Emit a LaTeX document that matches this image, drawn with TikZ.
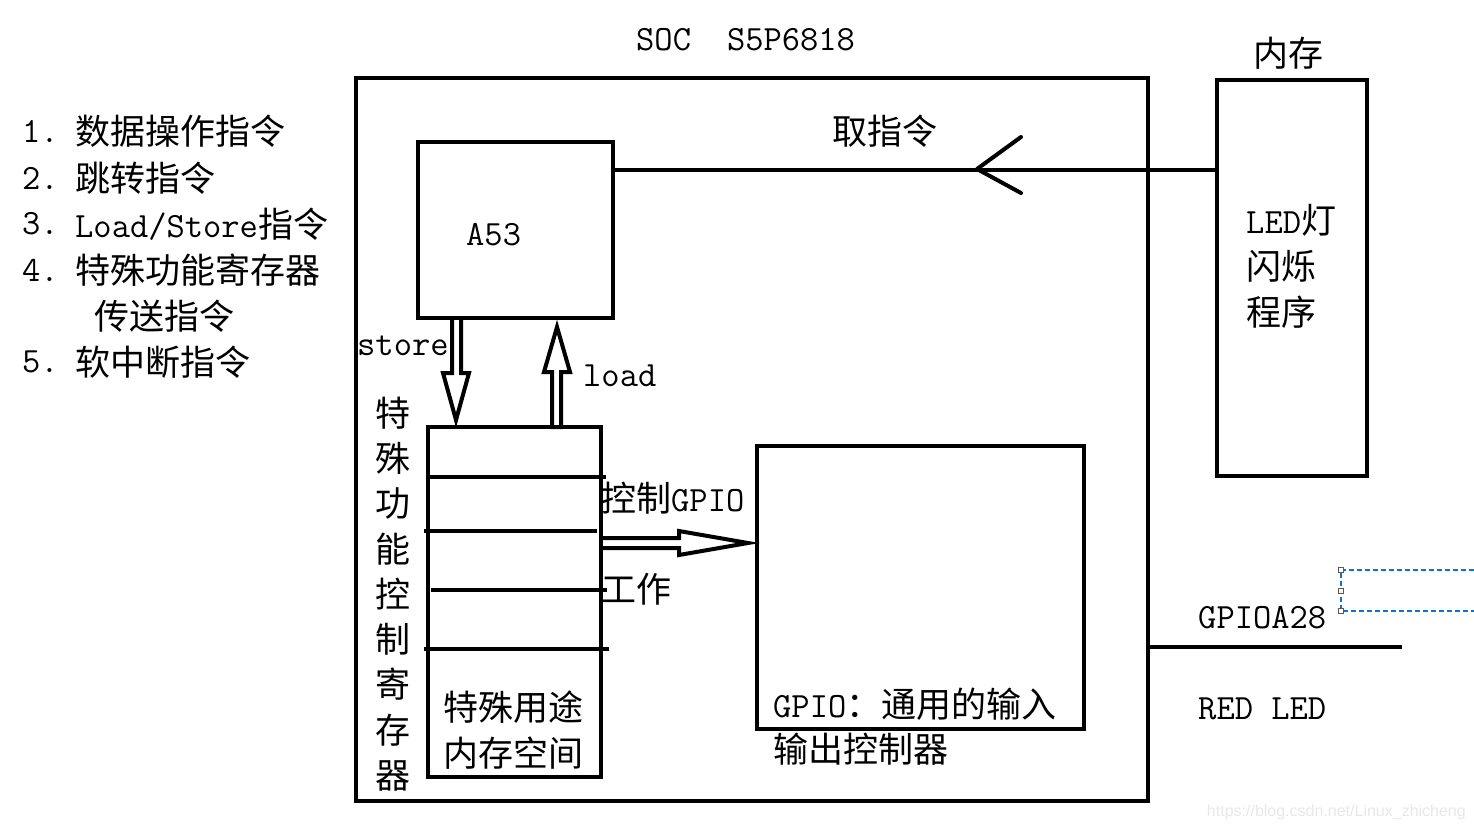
\documentclass[tikz,border=0pt]{standalone}
\usepackage{fontspec}
\newfontfamily\cjk{Noto Sans CJK SC}
\newfontfamily\wmfont{Liberation Sans}
\newcommand\zh[1]{{\cjk\fontsize{35}{46}\selectfont #1}}
\definecolor{selblue}{RGB}{0,120,215}
\begin{document}
\begin{tikzpicture}[x=1pt,y=-1pt,
  box/.style={draw,line width=4pt,inner sep=0pt,outer sep=0pt},
  txt/.style={inner sep=0pt,font=\ttfamily\fontsize{35.5}{46}\selectfont},
  wire/.style={line width=4pt},
  hollow/.style={line width=4pt,line join=miter}]
\useasboundingbox (0,0) rectangle (1474,831);
\fill[white] (0,0) rectangle (1474,831);

% boxes
\node[box,minimum width=792pt,minimum height=723pt] (soc) at (752,439.5) {};
\node[box,minimum width=195pt,minimum height=176pt] (a53) at (515.5,230) {};
\node[box,minimum width=150pt,minimum height=396pt] (mem) at (1292,278) {};
\node[box,minimum width=173pt,minimum height=350pt] (reg) at (514.5,602) {};
\node[box,minimum width=327pt,minimum height=283pt] (gpio) at (920.5,587.5) {};

% title and labels
\node[txt,anchor=west] (title) at (636,40) {SOC\hspace{36pt}S5P6818};
\node[txt] (memlbl) at (1288,53) {\zh{内存}};
\node[txt,anchor=west] (a53lbl) at (466,235) {A53};
\node[txt] (fetchlbl) at (885,131) {\zh{取指令}};
\node[txt,anchor=west,align=left] (prog) at (1246,266) {LED\zh{灯}\\\zh{闪烁}\\\zh{程序}};

% list
\node[txt,anchor=west] (n1) at (22,131) {1.};
\node[txt,anchor=west] (i1) at (75,131) {\zh{数据操作指令}};
\node[txt,anchor=west] (n2) at (22,178) {2.};
\node[txt,anchor=west] (i2) at (75,178) {\zh{跳转指令}};
\node[txt,anchor=west] (n3) at (22,224) {3.};
\node[txt,anchor=west] (i3) at (75,224) {Load/Store\zh{指令}};
\node[txt,anchor=west] (n4) at (22,270) {4.};
\node[txt,anchor=west] (i4) at (75,270) {\zh{特殊功能寄存器}};
\node[txt,anchor=west] (i4b) at (94,316) {\zh{传送指令}};
\node[txt,anchor=west] (n5) at (22,362) {5.};
\node[txt,anchor=west] (i5) at (75,362) {\zh{软中断指令}};

% fetch connector
\draw[wire] (a53.east |- 0,170) -- (mem.west |- 0,170);
\draw[wire,line cap=round,line join=round] (1021,137) -- (977,169) -- (1021,193);

% store / load hollow arrows
\draw[hollow] (452,0 |- a53.south) -- (452,373) -- (443,373) -- (456,420) -- (469,373) -- (461,373) -- (461,0 |- a53.south);
\draw[hollow] (552,0 |- reg.north) -- (552,372) -- (544,372) -- (557,327) -- (570,372) -- (561,372) -- (561,0 |- reg.north) -- cycle;
\node[txt,anchor=west] (storelbl) at (357,346) {store};
\node[txt,anchor=west] (loadlbl) at (583,376) {load};

% register lines
\draw[wire] (428,477) -- (606,477);
\draw[wire] (424,531) -- (597,531);
\draw[wire] (431,590) -- (607,590);
\draw[wire] (424,649) -- (609,649);

% vertical label
\node[inner sep=0pt,font=\fontsize{35}{45.3}\selectfont,align=center] (vlbl) at (393,594)
  {\zh{特}\\\zh{殊}\\\zh{功}\\\zh{能}\\\zh{控}\\\zh{制}\\\zh{寄}\\\zh{存}\\\zh{器}};
\node[txt,align=center] (reglbl) at (513,730) {\zh{特殊用途}\\\zh{内存空间}};

% control arrow
\draw[hollow] (reg.east |- 0,538) -- (679,538) -- (679,531) -- (748,543) -- (679,555) -- (679,548) -- (reg.east |- 0,548);
\node[txt,anchor=west] (ctllbl) at (601,498) {\zh{控制}GPIO};
\node[txt,anchor=west] (worklbl) at (601,589) {\zh{工作}};

% gpio text
\node[txt,anchor=west] (gpiol1) at (773,704) {GPIO\zh{：通用的输入}};
\node[txt,anchor=west] (gpiol2) at (773,749) {\zh{输出控制器}};

% GPIOA28
\coordinate (ledend) at (1402,647);
\draw[wire] (soc.east |- ledend) -- (ledend);
\node[txt,anchor=west] (pinlbl) at (1198,618) {GPIOA28};
\node[txt,anchor=west] (ledlbl) at (1198,709) {RED LED};

% selection frame
\draw[selblue,line width=1.3pt,dash pattern=on 5pt off 3pt] (1474,570) -- (1341,570) -- (1341,611) -- (1474,611);
\foreach \yy in {570,591,611}{
  \draw[black!65,line width=1pt,fill=white] (1338.5,\yy-2.5) rectangle ++(5,5);
}

% watermark
\node[inner sep=0pt,anchor=east,font=\wmfont\fontsize{16}{16}\selectfont,text=black!9] (wm) at (1466,812) {https://blog.csdn.net/Linux\_zhicheng};
\end{tikzpicture}
\end{document}
